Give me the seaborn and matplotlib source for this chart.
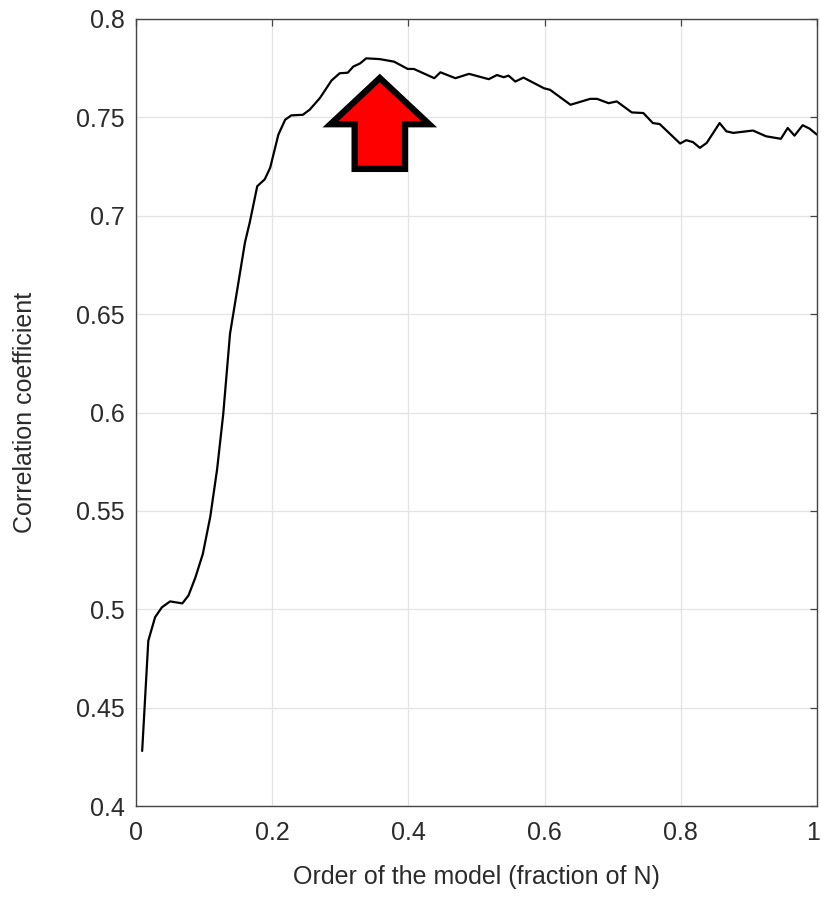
import matplotlib
matplotlib.use("Agg")
import matplotlib.pyplot as plt
import matplotlib.transforms as mtransforms
import pandas as pd
import seaborn as sns

# model order (fraction of N) and correlation coefficient
order_frac = [
    0.009, 0.018, 0.028, 0.038, 0.050, 0.068, 0.077, 0.087, 0.098, 0.109,
    0.119, 0.128, 0.138, 0.147, 0.160, 0.167, 0.178, 0.189, 0.197, 0.209,
    0.219, 0.228, 0.245, 0.255, 0.270, 0.287, 0.299, 0.311, 0.319, 0.329,
    0.338, 0.358, 0.379, 0.399, 0.408, 0.438, 0.447, 0.469, 0.489, 0.518,
    0.530, 0.540, 0.547, 0.557, 0.569, 0.599, 0.608, 0.638, 0.667, 0.677,
    0.694, 0.706, 0.728, 0.745, 0.759, 0.769, 0.799, 0.808, 0.818, 0.828,
    0.838, 0.857, 0.867, 0.877, 0.906, 0.925, 0.947, 0.957, 0.967, 0.979,
    0.989, 1.000,
]
corr_coef = [
    0.428, 0.484, 0.496, 0.501, 0.504, 0.503, 0.507, 0.516, 0.528, 0.547,
    0.571, 0.599, 0.640, 0.659, 0.6865, 0.6966, 0.715, 0.7185, 0.7244, 0.7412,
    0.7488, 0.751, 0.7513, 0.7539, 0.7598, 0.7687, 0.7724, 0.7727, 0.7758, 0.7774,
    0.780, 0.7796, 0.7783, 0.7746, 0.7746, 0.7699, 0.7729, 0.7699, 0.7721, 0.7694,
    0.7715, 0.7704, 0.7712, 0.7682, 0.7702, 0.7648, 0.764, 0.7564, 0.7594, 0.7594,
    0.7572, 0.7581, 0.7525, 0.7522, 0.7471, 0.7466, 0.7367, 0.7384, 0.7374, 0.7345,
    0.737, 0.7471, 0.7429, 0.7421, 0.7433, 0.7404, 0.7391, 0.7446, 0.7407, 0.746,
    0.7443, 0.7412,
]

x_ticks = [0, 0.2, 0.4, 0.6, 0.8, 1]
x_tick_labels = ["0", "0.2", "0.4", "0.6", "0.8", "1"]
y_ticks = [0.4, 0.45, 0.5, 0.55, 0.6, 0.65, 0.7, 0.75, 0.8]
y_tick_labels = ["0.4", "0.45", "0.5", "0.55", "0.6", "0.65", "0.7", "0.75", "0.8"]

# arrow pointing at the best order
arrow_x = 0.358
arrow_base = 0.7238
arrow_tip = 0.770

df = pd.DataFrame({"order": order_frac, "corr": corr_coef})

sns.set_style("whitegrid")
plt.rcParams["font.family"] = ["Liberation Sans", "DejaVu Sans"]

text_col = "#2b2b2b"

fig = plt.figure(figsize=(8.21, 8.99), dpi=100)
ax = fig.add_axes([0.1657, 0.1034, 0.8294, 0.8755])

sns.lineplot(data=df, x="order", y="corr", color="black", linewidth=1.6,
             estimator=None, sort=False, ax=ax)

ax.arrow(arrow_x, arrow_base, 0, arrow_tip - arrow_base,
         width=0.074, head_width=0.145, head_length=0.0235,
         length_includes_head=True, facecolor="#ff0000",
         edgecolor="black", linewidth=4.5, zorder=5)

ax.set_xlim(0, 1)
ax.set_ylim(0.4, 0.8)
ax.set_xticks(x_ticks)
ax.set_xticklabels(x_tick_labels)
ax.set_yticks(y_ticks)
ax.set_yticklabels(y_tick_labels)

ax.grid(True, color="#e3e3e3", linewidth=0.9)
for sp in ax.spines.values():
    sp.set_visible(True)
    sp.set_color("#444444")
    sp.set_linewidth(1.0)

ax.tick_params(axis="both", direction="in", length=5, width=0.9,
               colors="#444444", labelcolor=text_col, labelsize=18,
               top=True, right=True)
ax.tick_params(axis="x", pad=11)
ax.tick_params(axis="y", pad=8)

# nudge the last x label so it stays inside the canvas
last = ax.get_xticklabels()[-1]
last.set_transform(last.get_transform()
                   + mtransforms.ScaledTranslation(-0.04, 0, fig.dpi_scale_trans))

ax.set_xlabel("Order of the model (fraction of N)", fontsize=18,
              color=text_col, labelpad=14)
ax.set_ylabel("Correlation coefficient", fontsize=18, color=text_col,
              labelpad=28)

fig.savefig("out.png", dpi=100)
